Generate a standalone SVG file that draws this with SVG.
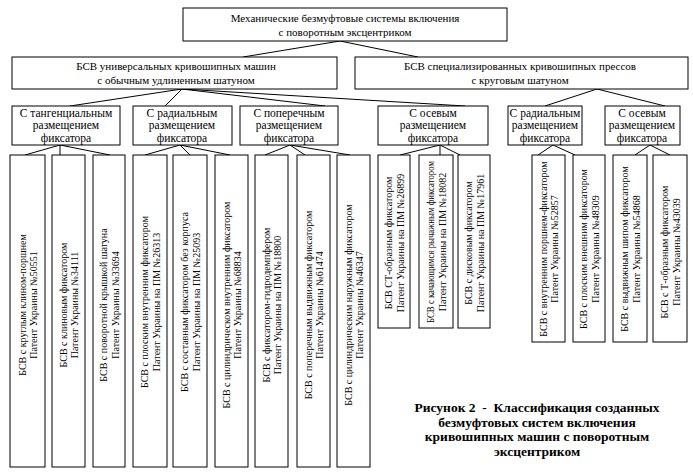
<svg xmlns="http://www.w3.org/2000/svg" width="693" height="475" viewBox="0 0 693 475">
<style>
.b{fill:#fff;stroke:#000;stroke-width:1}
.t{font-family:"Liberation Serif","Times New Roman",serif;font-size:11px;fill:#000;text-anchor:middle}
.m{font-family:"Liberation Serif","Times New Roman",serif;font-size:11.5px;fill:#000;text-anchor:middle}
.l{font-family:"Liberation Serif","Times New Roman",serif;font-size:10px;fill:#000;text-anchor:middle}
.c{font-family:"Liberation Serif","Times New Roman",serif;font-size:13.5px;font-weight:bold;fill:#000;text-anchor:middle;white-space:pre}
.k line{stroke:#000;stroke-width:1}
</style>
<rect width="693" height="475" fill="#fff"/>
<g class="k" id="connectors">
<line x1="340" y1="41" x2="243" y2="57"/>
<line x1="340" y1="41" x2="418" y2="57"/>
<line x1="182" y1="89" x2="70" y2="106"/>
<line x1="182" y1="89" x2="165" y2="106"/>
<line x1="182" y1="89" x2="325" y2="106"/>
<line x1="182" y1="89" x2="465" y2="106"/>
<line x1="597" y1="89" x2="545" y2="106"/>
<line x1="597" y1="89" x2="665" y2="106"/>
<line x1="60" y1="145" x2="25" y2="155"/>
<line x1="60" y1="145" x2="60" y2="155"/>
<line x1="60" y1="145" x2="110" y2="155"/>
<line x1="180" y1="145" x2="145" y2="155"/>
<line x1="180" y1="145" x2="190" y2="155"/>
<line x1="180" y1="145" x2="230" y2="155"/>
<line x1="290" y1="145" x2="265" y2="155"/>
<line x1="290" y1="145" x2="305" y2="155"/>
<line x1="290" y1="145" x2="350" y2="155"/>
<line x1="440" y1="145" x2="400" y2="155"/>
<line x1="440" y1="145" x2="440" y2="155"/>
<line x1="440" y1="145" x2="460" y2="155"/>
<line x1="553" y1="145" x2="538" y2="155"/>
<line x1="553" y1="145" x2="575" y2="155"/>
<line x1="650" y1="145" x2="635" y2="155"/>
<line x1="650" y1="145" x2="670" y2="155"/>
</g>
<g id="root"><rect class="b" x="183" y="8" width="324" height="33"/>
<text class="t" x="345" y="22">Механические безмуфтовые системы включения</text>
<text class="t" x="345" y="36">с поворотным эксцентриком</text></g>
<g id="univ"><rect class="b" x="12" y="57" width="325" height="32"/>
<text class="t" x="176" y="70">БСВ универсальных кривошипных машин</text>
<text class="t" x="176" y="84">с обычным удлиненным шатуном</text></g>
<g id="spec"><rect class="b" x="355" y="57" width="333" height="32"/>
<text class="t" x="520" y="70">БСВ специализированных кривошипных прессов</text>
<text class="t" x="520" y="84">с круговым шатуном</text></g>
<g id="g1"><rect class="b" x="12" y="106" width="108" height="39"/>
<text class="m" x="66" y="116.5">С тангенциальным</text><text class="m" x="66" y="129.3">размещением</text><text class="m" x="66" y="142.1">фиксатора</text></g>
<g id="g2"><rect class="b" x="133" y="106" width="99" height="39"/>
<text class="m" x="182" y="116.5">С радиальным</text><text class="m" x="182" y="129.3">размещением</text><text class="m" x="182" y="142.1">фиксатора</text></g>
<g id="g3"><rect class="b" x="240" y="106" width="98" height="39"/>
<text class="m" x="289" y="116.5">С поперечным</text><text class="m" x="289" y="129.3">размещением</text><text class="m" x="289" y="142.1">фиксатора</text></g>
<g id="g4"><rect class="b" x="378" y="106" width="110" height="39"/>
<text class="m" x="433" y="116.5">С осевым</text><text class="m" x="433" y="129.3">размещением</text><text class="m" x="433" y="142.1">фиксатора</text></g>
<g id="g5"><rect class="b" x="508" y="106" width="74" height="39"/>
<text class="m" x="545" y="116.5">С радиальным</text><text class="m" x="545" y="129.3">размещением</text><text class="m" x="545" y="142.1">фиксатора</text></g>
<g id="g6"><rect class="b" x="605" y="106" width="75" height="39"/>
<text class="m" x="642" y="116.5">С осевым</text><text class="m" x="642" y="129.3">размещением</text><text class="m" x="642" y="142.1">фиксатора</text></g>
<g id="n1"><rect class="b" x="10" y="155" width="35" height="312"/>
<g transform="translate(27.5,305) rotate(-90)"><text class="l" y="-2">БСВ с круглым  клином-поршнем</text><text class="l" y="9.5">Патент Украины №50551</text></g></g>
<g id="n2"><rect class="b" x="52" y="155" width="33" height="312"/>
<g transform="translate(68.5,305) rotate(-90)"><text class="l" y="-2">БСВ  с клиновым фиксатором</text><text class="l" y="9.5">Патент Украины №34111</text></g></g>
<g id="n3"><rect class="b" x="93" y="155" width="32" height="312"/>
<g transform="translate(109,305) rotate(-90)"><text class="l" y="-2">БСВ  с поворотной крышкой шатуна</text><text class="l" y="9.5">Патент Украины №33694</text></g></g>
<g id="n4"><rect class="b" x="133" y="155" width="34" height="312"/>
<g transform="translate(150,302) rotate(-90)"><text class="l" y="-2">БСВ  с плоским внутренним фиксатором</text><text class="l" y="9.5">Патент Украины на ПМ №26313</text></g></g>
<g id="n5"><rect class="b" x="173" y="155" width="34" height="312"/>
<g transform="translate(190,302) rotate(-90)"><text class="l" y="-2">БСВ  с составным фиксатором без корпуса</text><text class="l" y="9.5">Патент Украины на ПМ №25093</text></g></g>
<g id="n6"><rect class="b" x="215" y="155" width="33" height="312"/>
<g transform="translate(231.5,305) rotate(-90)"><text class="l" y="-2">БСВ  с цилиндрическом внутренним фиксатором</text><text class="l" y="9.5">Патент Украины №68834</text></g></g>
<g id="n7"><rect class="b" x="255" y="155" width="33" height="312"/>
<g transform="translate(271.5,305) rotate(-90)"><text class="l" y="-2">БСВ  с фиксатором-гидродемпфером</text><text class="l" y="9.5">Патент Украины на ПМ №18800</text></g></g>
<g id="n8"><rect class="b" x="297" y="155" width="33" height="312"/>
<g transform="translate(313.5,305) rotate(-90)"><text class="l" y="-2">БСВ  с поперечным выдвижным фиксатором</text><text class="l" y="9.5">Патент Украины №61474</text></g></g>
<g id="n9"><rect class="b" x="337" y="155" width="33" height="312"/>
<g transform="translate(353.5,305) rotate(-90)"><text class="l" y="-2">БСВ  с цилиндрическим наружным фиксатором</text><text class="l" y="9.5">Патент Украины №46347</text></g></g>
<g id="n10"><rect class="b" x="378" y="155" width="32" height="173"/>
<g transform="translate(394,243) rotate(-90)"><text class="l" y="-2">БСВ СТ-образным фиксатором</text><text class="l" y="9.5">Патент Украины на ПМ №26899</text></g></g>
<g id="n11"><rect class="b" x="419" y="155" width="34" height="173"/>
<g transform="translate(436,242) rotate(-90)"><text class="l" y="-2" textLength="162" lengthAdjust="spacingAndGlyphs">БСВ  с качающимся рычажным фиксатором</text><text class="l" y="9.5">Патент Украины на ПМ №18082</text></g></g>
<g id="n12"><rect class="b" x="458" y="155" width="32" height="173"/>
<g transform="translate(474,243) rotate(-90)"><text class="l" y="-2">БСВ  с дисковым фиксатором</text><text class="l" y="9.5">Патент Украины на ПМ №17961</text></g></g>
<g id="n13"><rect class="b" x="532" y="155" width="33" height="187"/>
<g transform="translate(548.5,249) rotate(-90)"><text class="l" y="-2">БСВ  с внутренним поршнем-фиксатором</text><text class="l" y="9.5">Патент Украины №52857</text></g></g>
<g id="n14"><rect class="b" x="573" y="155" width="32" height="187"/>
<g transform="translate(589,249) rotate(-90)"><text class="l" y="-2">БСВ  с плоским внешним фиксатором</text><text class="l" y="9.5">Патент Украины №48309</text></g></g>
<g id="n15"><rect class="b" x="613" y="155" width="34" height="187"/>
<g transform="translate(630,249) rotate(-90)"><text class="l" y="-2">БСВ  с выдвижным шипом фиксатором</text><text class="l" y="9.5">Патент Украины №54868</text></g></g>
<g id="n16"><rect class="b" x="653" y="155" width="34" height="187"/>
<g transform="translate(670,252) rotate(-90)"><text class="l" y="-2">БСВ  с Т-образным фиксатором</text><text class="l" y="9.5">Патент Украины №43039</text></g></g>
<g id="caption">
<text class="c" x="537" y="412">Рисунок 2  -  Классификация созданных</text>
<text class="c" x="537" y="427">безмуфтовых систем включения</text>
<text class="c" x="537" y="441">кривошипных машин с поворотным</text>
<text class="c" x="537" y="456">эксцентриком</text>
</g>
</svg>
